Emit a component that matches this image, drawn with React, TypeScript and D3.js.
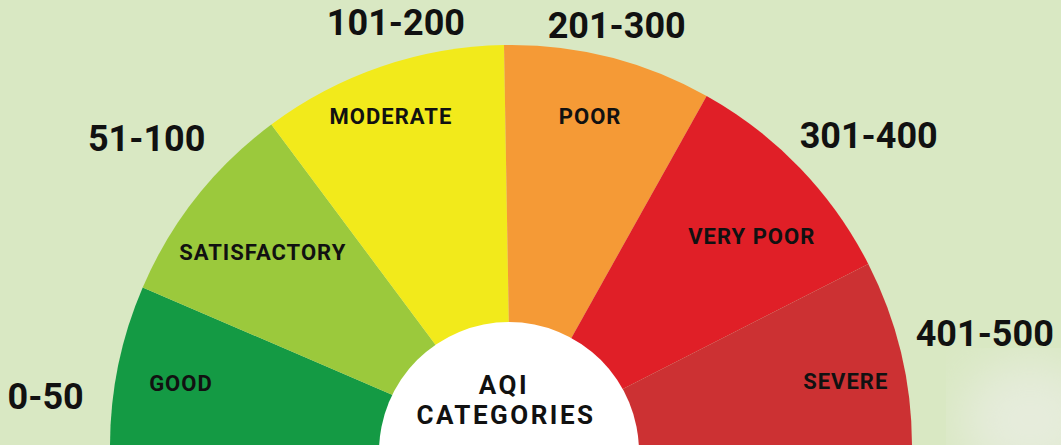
import * as React from 'react';
import * as d3 from 'd3';

const categories = ['GOOD', 'SATISFACTORY', 'MODERATE', 'POOR', 'VERY POOR', 'SEVERE'];
const ranges = ['0-50', '51-100', '101-200', '201-300', '301-400', '401-500'];
// share of the half circle each band takes in the picture (degrees)
const sweep = [23.3, 30, 35.7, 30.2, 33.8, 27];
const colors = ['#149a44', '#9bc93c', '#f2ea1b', '#f59a36', '#e01f27', '#cc3133'];

// label placement: [angle from the left horizontal in degrees, radius]
const nameSpots = [[10.8, 336], [38, 315], [70, 351], [103.5, 339], [139, 319], [169, 341]];
const rangeSpots = [[6.1, 468], [40.2, 477], [74.8, 439], [104.1, 434], [139, 474], [166.6, 487]];

const width = 1061;
const height = 445;
const cx = 511;
const cy = 446;
const outerR = 401;

const polar = (deg: number, r: number) => {
  const a = (deg * Math.PI) / 180;
  return [cx - r * Math.cos(a), cy - r * Math.sin(a)];
};

export default function App() {
  const ref = React.useRef<SVGSVGElement>(null);

  React.useEffect(() => {
    const svg = d3.select(ref.current);
    svg.selectAll('*').remove();

    const defs = svg.append('defs');
    defs.append('filter').attr('id', 'soft')
      .append('feGaussianBlur').attr('stdDeviation', 25);

    svg.append('rect')
      .attr('width', width).attr('height', height)
      .attr('fill', '#d9e8c3');
    svg.append('ellipse')
      .attr('cx', 1030).attr('cy', 420).attr('rx', 70).attr('ry', 60)
      .attr('fill', '#e6ecdc').attr('filter', 'url(#soft)');

    const pie = d3.pie<number>()
      .sort(null)
      .value(d => d)
      .startAngle(-Math.PI / 2)
      .endAngle(Math.PI / 2);
    const arc = d3.arc<d3.PieArcDatum<number>>()
      .innerRadius(0)
      .outerRadius(outerR);

    const g = svg.append('g').attr('transform', `translate(${cx},${cy})`);
    g.selectAll('path')
      .data(pie(sweep))
      .join('path')
      .attr('d', arc)
      .attr('fill', (d, i) => colors[i]);

    svg.append('circle')
      .attr('cx', 509).attr('cy', 452).attr('r', 130)
      .attr('fill', '#ffffff');

    const font = 'Roboto, "DejaVu Sans", sans-serif';

    svg.append('g').selectAll('text')
      .data(categories)
      .join('text')
      .attr('x', (d, i) => polar(nameSpots[i][0], nameSpots[i][1])[0])
      .attr('y', (d, i) => polar(nameSpots[i][0], nameSpots[i][1])[1])
      .attr('dy', '0.35em')
      .attr('text-anchor', 'middle')
      .attr('font-family', font)
      .attr('font-weight', 700)
      .attr('font-size', 22)
      .attr('letter-spacing', 1)
      .attr('fill', '#111')
      .text(d => d);

    svg.append('g').selectAll('text')
      .data(ranges)
      .join('text')
      .attr('x', (d, i) => polar(rangeSpots[i][0], rangeSpots[i][1])[0])
      .attr('y', (d, i) => polar(rangeSpots[i][0], rangeSpots[i][1])[1])
      .attr('dy', '0.35em')
      .attr('text-anchor', 'middle')
      .attr('font-family', font)
      .attr('font-weight', 700)
      .attr('font-size', 36)
      .attr('fill', '#111')
      .text(d => d);

    const title = svg.append('g')
      .attr('font-family', font)
      .attr('font-weight', 700)
      .attr('font-size', 26)
      .attr('letter-spacing', 2.5)
      .attr('text-anchor', 'middle')
      .attr('fill', '#111');
    title.append('text').attr('x', 504).attr('y', 385).attr('dy', '0.35em').text('AQI');
    title.append('text').attr('x', 506).attr('y', 415).attr('dy', '0.35em').text('CATEGORIES');
  }, []);

  return (
    <svg
      ref={ref}
      width={width}
      height={height}
      style={{ position: 'absolute', left: 0, top: 0, display: 'block' }}
    />
  );
}
